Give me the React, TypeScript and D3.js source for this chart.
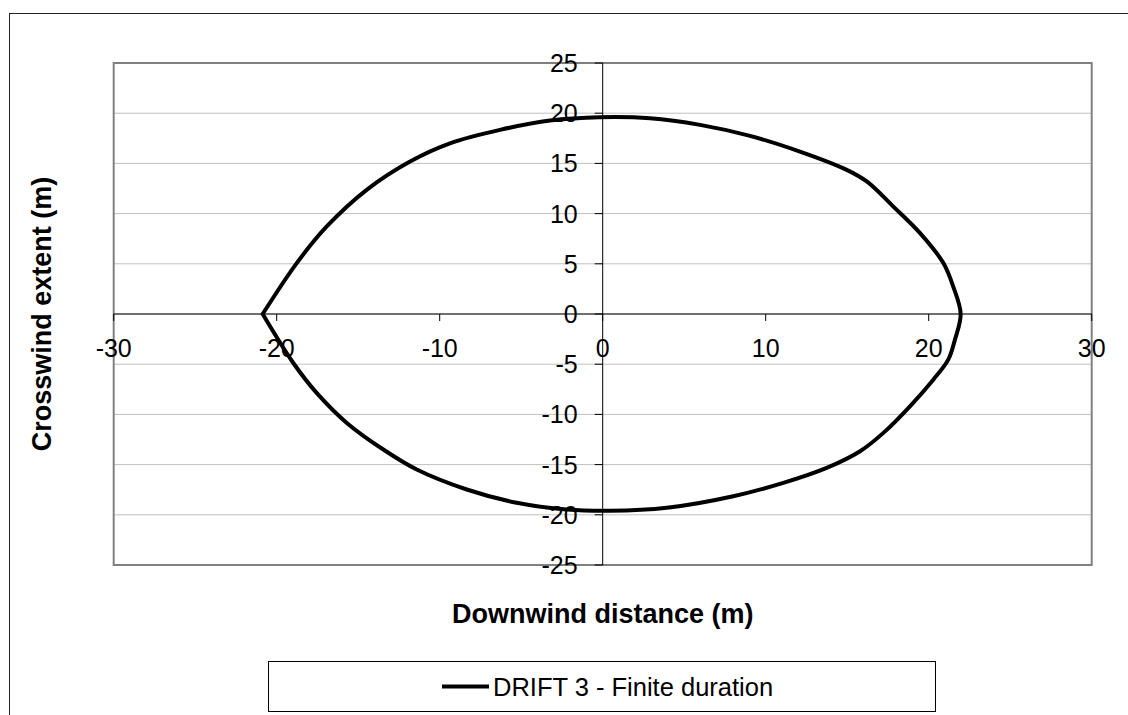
import React from "react";
import * as d3 from "d3";

// Plume footprint outline, upper half (left to right) then lower half (right to left)
const upperX = [-20.86, -18.77, -16.93, -14.48, -11.82, -9.37, -6.3, -3.23, -0.17, 2.9, 5.97, 9.04, 12.1, 14.97, 16.2, 17.83, 19.47, 20.9, 21.5, 21.96];
const upperY = [0, 5.07, 8.72, 12.37, 15.19, 17.0, 18.34, 19.27, 19.6, 19.5, 18.84, 17.74, 16.18, 14.36, 13.2, 10.7, 8.06, 5.07, 2.75, 0];
const lowerX = [21.96, 21.61, 21.2, 20.28, 18.85, 17.22, 15.79, 13.74, 11.08, 8.01, 3.93, 0.45, -2.21, -5.28, -8.34, -11.41, -13.46, -15.7, -17.55, -18.98, -20.86];
const lowerY = [0, -2.55, -4.55, -6.54, -9.19, -11.84, -13.67, -15.33, -16.82, -18.15, -19.3, -19.6, -19.47, -18.8, -17.48, -15.49, -13.5, -10.85, -7.86, -4.88, 0];

const xTicks = [-30, -20, -10, 0, 10, 20, 30];
const yTicks = [25, 20, 15, 10, 5, 0, -5, -10, -15, -20, -25];

const seriesName = "DRIFT 3 - Finite duration";
const xTitle = "Downwind distance (m)";
const yTitle = "Crosswind extent (m)";

const W = 1128;
const H = 715;
const plot = { left: 113.7, right: 1091.7, top: 63, bottom: 565 };
const FONT = "'Liberation Sans', Arial, sans-serif";

export default function App() {
  const x = d3.scaleLinear().domain([-30, 30]).range([plot.left, plot.right]);
  const y = d3.scaleLinear().domain([-25, 25]).range([plot.bottom, plot.top]);

  const pts: [number, number][] = [
    ...upperX.map((v, i) => [v, upperY[i]] as [number, number]),
    ...lowerX.slice(1).map((v, i) => [v, lowerY[i + 1]] as [number, number]),
  ];

  const line = d3
    .line<[number, number]>()
    .x((d) => x(d[0]))
    .y((d) => y(d[1]))
    .curve(d3.curveCatmullRom.alpha(0.5));

  const pathD = (line(pts) || "") + "Z";

  const x0 = x(0);
  const y0 = y(0);

  return (
    <svg
      width={W}
      height={H}
      style={{ position: "absolute", left: 0, top: 0, background: "#fff" }}
      fontFamily={FONT}
    >
      <rect x={0} y={0} width={W} height={H} fill="#fff" />
      {/* chart area border */}
      <rect x={9.5} y={13.5} width={W + 20} height={H + 20} fill="none" stroke="#222" strokeWidth={1} />

      {/* horizontal gridlines */}
      {yTicks.map((t) => (
        <line key={"g" + t} x1={plot.left} x2={plot.right} y1={y(t)} y2={y(t)} stroke="#c0c0c0" strokeWidth={1} />
      ))}

      {/* plot frame */}
      <rect
        x={plot.left}
        y={plot.top}
        width={plot.right - plot.left}
        height={plot.bottom - plot.top}
        fill="none"
        stroke="#808080"
        strokeWidth={2}
      />

      {/* axes through the origin */}
      <line x1={plot.left} x2={plot.right} y1={y0} y2={y0} stroke="#000" strokeWidth={1} />
      <line x1={x0} x2={x0} y1={plot.top} y2={plot.bottom} stroke="#000" strokeWidth={1} />

      {xTicks.map((t) => (
        <g key={"xt" + t}>
          <line x1={x(t)} x2={x(t)} y1={y0} y2={y0 + 7} stroke="#000" strokeWidth={1} />
          <text x={x(t)} y={y0 + 43} textAnchor="middle" fontSize={25} fill="#000">
            {t}
          </text>
        </g>
      ))}

      {yTicks.map((t) => (
        <g key={"yt" + t}>
          <line x1={x0 - 8} x2={x0} y1={y(t)} y2={y(t)} stroke="#000" strokeWidth={1} />
          <text x={x0 - 25} y={y(t) + 9} textAnchor="end" fontSize={25} fill="#000">
            {t}
          </text>
        </g>
      ))}

      {/* footprint outline */}
      <path d={pathD} fill="none" stroke="#000" strokeWidth={4} strokeLinejoin="miter" strokeMiterlimit={10} />

      {/* axis titles */}
      <text x={(plot.left + plot.right) / 2} y={623} textAnchor="middle" fontSize={27} fontWeight="bold" fill="#000">
        {xTitle}
      </text>
      <text
        transform={`translate(51, ${(plot.top + plot.bottom) / 2}) rotate(-90)`}
        textAnchor="middle"
        fontSize={27}
        fontWeight="bold"
        fill="#000"
      >
        {yTitle}
      </text>

      {/* legend */}
      <rect x={268.5} y={661.5} width={667} height={50} fill="#fff" stroke="#000" strokeWidth={1} />
      <line x1={442} x2={489} y1={686.5} y2={686.5} stroke="#000" strokeWidth={4} />
      <text x={493} y={696} fontSize={25.5} fill="#000">
        {seriesName}
      </text>
    </svg>
  );
}
